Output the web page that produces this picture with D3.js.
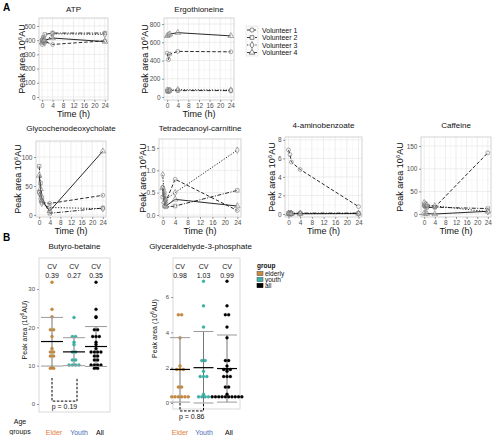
<!DOCTYPE html>
<html><head><meta charset="utf-8">
<script src="https://cdn.jsdelivr.net/npm/d3@7"></script>
<style>body{margin:0;background:#fff}svg{font-family:"Liberation Sans",Arial,sans-serif}</style>
</head><body><svg id="c" width="496" height="435"></svg>
<script>
// ---------- DATA ----------
const times = [0, 0.5, 1, 4, 24];
const timeTicks = [0, 4, 8, 12, 16, 20, 24];
const volunteers = ["Volunteer 1", "Volunteer 2", "Volunteer 3", "Volunteer 4"];
// series order: Volunteer 1..4
const atp = [[370,385,390,370,395],[400,420,440,450,450],[405,395,380,445,440],[385,395,400,415,390]];
const ergothioneine = [[480,410,470,500,495],[65,60,70,70,70],[75,70,75,80,75],[670,680,690,705,670]];
const glycochenodeoxycholate = [[40,35,22,20,34],[84,55,30,3,12],[38,28,20,13,11],[68,45,25,7,110]];
const tetradecanoylCarnitine = [[0.62,0.2,0.3,0.8,0.1],[0.4,0.5,0.18,0.2,0.55],[0.9,0.45,0.35,0.5,1.45],[0.6,0.3,0.2,0.35,0.2]];
const aminobenzoate = [[6.9,6.4,5.6,4.8,0.8],[0.1,0.1,0.1,0.1,0.1],[0.05,0.05,0.05,0.05,0.05],[0.03,0.03,0.03,0.03,0.05]];
const caffeine = [[18,15,14,15,135],[20,18,17,15,12],[25,22,20,18,5],[2,1,1,0,6]];
const atpTicks = [0,100,200,300,400,500];
const ergoTicks = [0,200,400,600,800];
const glycoTicks = [0,50,100];
const tetraTicks = [0.0,0.5,1.0,1.5];
const aminoTicks = [0,2,4,6,8];
const caffTicks = [0,50,100,150];

const ageGroups = ["Elder", "Youth", "All"];
const groupKeys = ["elderly", "youth", "all"];
const butyroElder = [31.8,24.7,22.8,19.4,19.4,17.6,14.5,13.6,13.6,12.5,12.5,9.5,9.3,9.3];
const butyroYouth = [22.6,17.6,17.6,16.1,15.5,13.6,13.6,11.5,11.5,10.2,10.2,10.2,10.2];
const butyroMean = [16.3, 13.6, 15.0];
const butyroLow = [9.9, 10.0, 9.8];
const butyroHigh = [22.6, 17.3, 20.2];
const butyroCV = ["0.39", "0.27", "0.35"];
const butyroTicks = [0,10,20,30];
const butyroP = "p = 0.19";
const g3pElder = [5.0,5.0,3.7,2.1,1.9,1.9,1.9,0.9,0.9,0.35,0.35,0.35,0.35,0.35,0.35];
const g3pYouth = [6.9,5.5,4.3,2.4,2.4,1.8,1.5,1.5,1.5,0.5,0.35,0.35,0.35,0.35];
const g3pMean = [1.9, 2.0, 1.95];
const g3pLow = [0.05, 0.0, 0.05];
const g3pHigh = [3.7, 4.05, 3.85];
const g3pCV = ["0.98", "1.03", "0.99"];
const g3pTicks = [0,2,4,6];
const g3pP = "p = 0.86";

// ---------- STYLE ----------
const shapes = [d3.symbolCircle, d3.symbolSquare, d3.symbolDiamond, d3.symbolTriangle];
const dashes = ["3.5,2", "4,1.5,1,1.5", "1.2,1.6", null];
const groupFill = ["#c98a3c", "#35b5aa", "#000000"];
const labelColor = ["#e07b39", "#4b6cb7", "#000000"];
const svg = d3.select("#c");
const tickCol = "#4d4d4d";

function yLabelA(g, x, yc) {
  const t = g.append("text").attr("transform", `translate(${x},${yc}) rotate(-90)`)
    .attr("text-anchor", "middle").attr("font-size", 9).attr("fill", "#111");
  t.append("tspan").text("Peak area 10");
  t.append("tspan").attr("font-size", 6).attr("dy", -3.5).text("6");
  t.append("tspan").attr("dy", 3.5).text("AU");
}

function panelA(cfg) {
  const {title, data, ticks, x0, x1, y0, y1, ylo, yhi, titleY, ylabX} = cfg;
  const g = svg.append("g");
  const x = d3.scaleLinear().domain([-1.2, 25.2]).range([x0, x1]);
  const y = d3.scaleLinear().domain([ylo, yhi]).range([y1, y0]);
  const minorX = d3.range(2, 24, 4);
  const step = ticks[1] - ticks[0];
  const minorY = ticks.map(t => t + step / 2).filter(v => v < yhi);
  g.selectAll(".mx").data(minorX).join("line").attr("x1", d => x(d)).attr("x2", d => x(d))
    .attr("y1", y0).attr("y2", y1).attr("stroke", "#f3f3f3").attr("stroke-width", 0.5);
  g.selectAll(".my").data(minorY).join("line").attr("y1", d => y(d)).attr("y2", d => y(d))
    .attr("x1", x0).attr("x2", x1).attr("stroke", "#f3f3f3").attr("stroke-width", 0.5);
  g.selectAll(".gx").data(timeTicks).join("line").attr("x1", d => x(d)).attr("x2", d => x(d))
    .attr("y1", y0).attr("y2", y1).attr("stroke", "#e8e8e8").attr("stroke-width", 0.8);
  g.selectAll(".gy").data(ticks).join("line").attr("y1", d => y(d)).attr("y2", d => y(d))
    .attr("x1", x0).attr("x2", x1).attr("stroke", "#e8e8e8").attr("stroke-width", 0.8);
  g.append("rect").attr("x", x0).attr("y", y0).attr("width", x1 - x0).attr("height", y1 - y0)
    .attr("fill", "none").attr("stroke", "#c8c8c8").attr("stroke-width", 0.8);
  const ax = g.append("g").attr("transform", `translate(0,${y1})`)
    .call(d3.axisBottom(x).tickValues(timeTicks).tickSize(2).tickPadding(1.5));
  const ay = g.append("g").attr("transform", `translate(${x0},0)`)
    .call(d3.axisLeft(y).tickValues(ticks).tickSize(2).tickPadding(1.5)
      .tickFormat(ticks[1] < 1 ? d3.format(".1f") : d3.format("d")));
  [ax, ay].forEach(a => {
    a.select(".domain").remove();
    a.selectAll("line").attr("stroke", "#555").attr("stroke-width", 0.6);
    a.selectAll("text").attr("font-size", 6.5).attr("fill", tickCol).attr("font-family", null);
  });
  const line = d3.line().x((d, i) => x(times[i])).y(d => y(d));
  data.forEach((s, k) => {
    g.append("path").attr("d", line(s)).attr("fill", "none").attr("stroke", "#111")
      .attr("stroke-width", 0.9).attr("stroke-dasharray", dashes[k]);
  });
  data.forEach((s, k) => {
    g.selectAll(null).data(s).join("path")
      .attr("d", d3.symbol().type(shapes[k]).size(k === 3 ? 14 : 12))
      .attr("transform", (d, i) => `translate(${x(times[i])},${y(d)})`)
      .attr("fill", "white").attr("fill-opacity", 0.2).attr("stroke", "#666").attr("stroke-width", 0.55);
  });
  g.append("text").attr("x", (x0 + x1) / 2).attr("y", titleY).attr("text-anchor", "middle")
    .attr("font-size", 8).attr("fill", "#111").text(title);
  g.append("text").attr("x", (x0 + x1) / 2).attr("y", y1 + 17).attr("text-anchor", "middle")
    .attr("font-size", 9).attr("fill", "#111").text("Time (h)");
  yLabelA(g, ylabX, (y0 + y1) / 2);
}

panelA({title: "ATP", data: atp, ticks: atpTicks, x0: 39, x1: 108, y0: 18, y1: 100, ylo: -21, yhi: 556, titleY: 12, ylabX: 25});
panelA({title: "Ergothioneine", data: ergothioneine, ticks: ergoTicks, x0: 164, x1: 234, y0: 18, y1: 100, ylo: -33, yhi: 866, titleY: 12, ylabX: 148});
panelA({title: "Glycochenodeoxycholate", data: glycochenodeoxycholate, ticks: glycoTicks, x0: 36, x1: 106, y0: 141, y1: 217, ylo: -3.4, yhi: 127.6, titleY: 131, ylabX: 21});
panelA({title: "Tetradecanoyl-carnitine", data: tetradecanoylCarnitine, ticks: tetraTicks, x0: 159, x1: 241, y0: 139, y1: 217, ylo: -0.045, yhi: 1.70, titleY: 131, ylabX: 146});
panelA({title: "4-aminobenzoate", data: aminobenzoate, ticks: aminoTicks, x0: 285, x1: 362, y0: 137, y1: 217, ylo: -0.32, yhi: 8.3, titleY: 128, ylabX: 275});
panelA({title: "Caffeine", data: caffeine, ticks: caffTicks, x0: 421, x1: 491, y0: 137, y1: 217, ylo: -6.6, yhi: 170, titleY: 128, ylabX: 403});

// Panel A legend
{
  const g = svg.append("g");
  const rowY = [30, 37.5, 45, 52.5];
  g.append("rect").attr("x", 246).attr("y", 26).attr("width", 12).attr("height", 30)
    .attr("fill", "#fafafa").attr("stroke", "#d8d8d8").attr("stroke-width", 0.5);
  volunteers.forEach((v, k) => {
    g.append("line").attr("x1", 247).attr("x2", 257).attr("y1", rowY[k]).attr("y2", rowY[k])
      .attr("stroke", "#111").attr("stroke-width", 0.8).attr("stroke-dasharray", dashes[k]);
    g.append("path").attr("d", d3.symbol().type(shapes[k]).size(14)())
      .attr("transform", `translate(252,${rowY[k]})`).attr("fill", "white").attr("stroke", "#333").attr("stroke-width", 0.6);
    g.append("text").attr("x", 262).attr("y", rowY[k] + 2.5).attr("font-size", 7).attr("fill", "#111").text(v);
  });
}

svg.append("text").attr("x", 3).attr("y", 11).attr("font-size", 10).attr("font-weight", "bold").text("A");
svg.append("text").attr("x", 3).attr("y", 241).attr("font-size", 10).attr("font-weight", "bold").text("B");

// ---------- PANEL B ----------
function dotLayout(vals, cx, y) {
  const counts = d3.rollup(vals, v => v.length, d => d);
  const seen = new Map();
  return vals.map(v => {
    const n = counts.get(v); const i = seen.get(v) || 0; seen.set(v, i + 1);
    return {cx: cx + (i - (n - 1) / 2) * 3.3, cy: y(v)};
  });
}

function panelB(cfg) {
  const {title, elder, youth, mean, low, high, cv, ticks, p, x0, x1, y0, y1, ylo, yhi, cols, labX, ylabX, pTop, pBot, pTextY, hw} = cfg;
  const g = svg.append("g");
  const y = d3.scaleLinear().domain([ylo, yhi]).range([y1, y0]);
  const xc = d3.scalePoint().domain(ageGroups).range(cols);
  g.append("rect").attr("x", x0).attr("y", y0).attr("width", x1 - x0).attr("height", y1 - y0)
    .attr("fill", "none").attr("stroke", "#d0d0d0").attr("stroke-width", 0.8);
  const ay = g.append("g").attr("transform", `translate(${x0},0)`)
    .call(d3.axisLeft(y).tickValues(ticks).tickSize(2).tickPadding(2));
  ay.select(".domain").remove();
  ay.selectAll("line").attr("stroke", "#555").attr("stroke-width", 0.6);
  ay.selectAll("text").attr("font-size", 6).attr("fill", tickCol).attr("font-family", null);
  const sets = [elder, youth, elder.concat(youth)];
  ageGroups.forEach((a, k) => {
    const cx = xc(a);
    g.append("line").attr("x1", cx).attr("x2", cx).attr("y1", y(low[k])).attr("y2", y(high[k]))
      .attr("stroke", "#666").attr("stroke-width", 0.9);
    dotLayout(sets[k], cx, y).forEach(d => {
      g.append("circle").attr("cx", d.cx).attr("cy", d.cy).attr("r", 1.5)
        .attr("fill", groupFill[k]).attr("stroke", k === 2 ? "#000" : d3.color(groupFill[k]).darker(0.6)).attr("stroke-width", 0.3);
    });
    [low[k], high[k]].forEach(v => g.append("line").attr("x1", cx - hw).attr("x2", cx + hw)
      .attr("y1", y(v)).attr("y2", y(v)).attr("stroke", "#9a9a9a").attr("stroke-width", 1));
    g.append("line").attr("x1", cx - hw).attr("x2", cx + hw).attr("y1", y(mean[k])).attr("y2", y(mean[k]))
      .attr("stroke", "#000").attr("stroke-width", 1.2);
    g.append("text").attr("x", cx).attr("y", y0 + 11).attr("text-anchor", "middle").attr("font-size", 7).attr("fill", "#111").text("CV");
    g.append("text").attr("x", cx).attr("y", y0 + 20).attr("text-anchor", "middle").attr("font-size", 7).attr("fill", "#111").text(cv[k]);
    g.append("text").attr("x", labX[k]).attr("y", 435).attr("text-anchor", "middle").attr("font-size", 7)
      .attr("fill", labelColor[k]).text(a);
  });
  const bx1 = xc("Elder"), bx2 = xc("Youth") + (cfg.pShift || 0);
  g.append("path").attr("d", `M${bx1},${y(pTop)}V${y(pBot)}H${bx2}V${y(pTop)}`).attr("fill", "none")
    .attr("stroke", "#000").attr("stroke-width", 1).attr("stroke-dasharray", "2.5,1.5");
  g.append("text").attr("x", (bx1 + bx2) / 2).attr("y", pTextY).attr("text-anchor", "middle")
    .attr("font-size", 7).attr("fill", "#111").text(p);
  g.append("text").attr("x", (x0 + x1) / 2 + (cfg.titleShift || 0)).attr("y", 249).attr("text-anchor", "middle")
    .attr("font-size", 8).attr("fill", "#111").text(title);
  const t = g.append("text").attr("transform", `translate(${ylabX},${(y0 + y1) / 2 - 5}) rotate(-90)`)
    .attr("text-anchor", "middle").attr("font-size", 7).attr("fill", "#111");
  t.append("tspan").text("Peak area (10");
  t.append("tspan").attr("font-size", 5).attr("dy", -3).text("6");
  t.append("tspan").attr("dy", 3).text("AU)");
}

panelB({title: "Butyro-betaine", elder: butyroElder, youth: butyroYouth, mean: butyroMean, low: butyroLow, high: butyroHigh,
  cv: butyroCV, ticks: butyroTicks, p: butyroP, x0: 39, x1: 110, y0: 258, y1: 412, ylo: -2.09, yhi: 38.1,
  cols: [52, 96], labX: [54, 79, 100], ylabX: 27, pTop: 6.8, pBot: 0.75, pTextY: 409, hw: 11, pShift: 3});
panelB({title: "Glyceraldehyde-3-phosphate", elder: g3pElder, youth: g3pYouth, mean: g3pMean, low: g3pLow, high: g3pHigh,
  cv: g3pCV, ticks: g3pTicks, p: g3pP, x0: 173, x1: 240, y0: 258, y1: 409, ylo: -0.34, yhi: 8.21,
  cols: [180, 227], labX: [180, 204, 229], ylabX: 157, pTop: 0.0, pBot: -0.45, pTextY: 419, hw: 10, titleShift: -6});

svg.append("text").attr("x", 20).attr("y", 424).attr("text-anchor", "middle").attr("font-size", 7).attr("fill", "#111").text("Age");
svg.append("text").attr("x", 20).attr("y", 434).attr("text-anchor", "middle").attr("font-size", 7).attr("fill", "#111").text("groups");

{
  const g = svg.append("g");
  g.append("text").attr("x", 257).attr("y", 268).attr("font-size", 6.5).attr("font-weight", "bold").attr("fill", "#111").text("group");
  const ry = [273.5, 279.5, 285.5];
  groupKeys.forEach((k, i) => {
    g.append("rect").attr("x", 257).attr("y", ry[i] - 2.2).attr("width", 6).attr("height", 4.4)
      .attr("fill", groupFill[i]).attr("stroke", i === 2 ? "#000" : "#666").attr("stroke-width", 0.6);
    g.append("text").attr("x", 265).attr("y", ry[i] + 2.2).attr("font-size", 6.5).attr("fill", "#111").text(k);
  });
}
</script></body></html>
